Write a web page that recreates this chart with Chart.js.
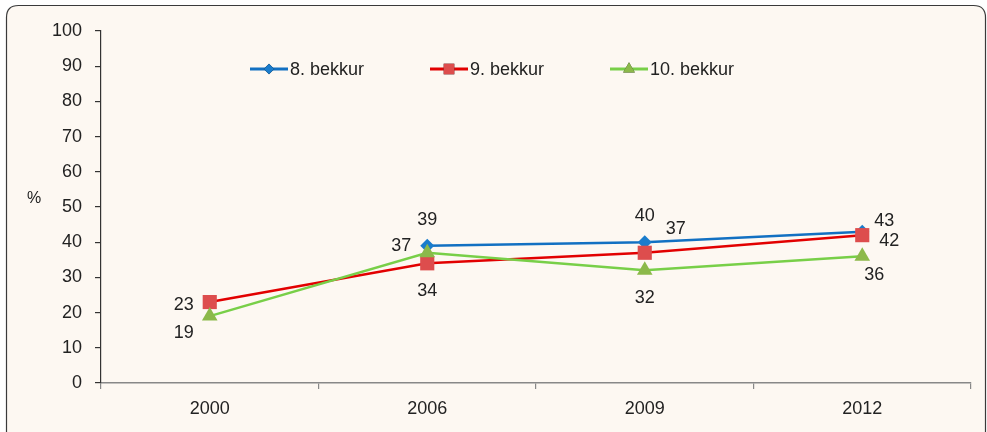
<!DOCTYPE html>
<html>
<head>
<meta charset="utf-8">
<script src="https://cdn.jsdelivr.net/npm/chart.js@4.4.0/dist/chart.umd.min.js"></script>
<style>
  html, body { margin: 0; padding: 0; background: #ffffff; }
  #wrap { width: 987px; height: 432px; position: relative; }
</style>
</head>
<body>
<div id="wrap"><canvas id="chart" width="987" height="432"></canvas></div>
<script>
// chart values
const years = ['2000', '2006', '2009', '2012'];
const grade8 = [null, 39, 40, 43];
const grade9 = [23, 34, 37, 42];
const grade10 = [19, 37, 32, 36];
const yTicks = [0, 10, 20, 30, 40, 50, 60, 70, 80, 90, 100];

// where each value label sits relative to its point
const pos8 = [null, 'above', 'above', 'upRight'];
const pos9 = ['left', 'below', 'aboveRight', 'right'];
const pos10 = ['belowLeft', 'leftUp', 'below', 'belowRight'];
const offsets = {
  above: [0, -26], below: [0, 28], left: [-26, 3], leftUp: [-26, -7],
  right: [27, 6], upRight: [22, -11], aboveRight: [31, -24],
  belowLeft: [-26, 17], belowRight: [12, 19]
};

const FONT = '"Liberation Sans", Arial, sans-serif';
const FSIZE = 18;
const textColor = '#222222';

const frame = {
  id: 'frame',
  beforeDraw(chart) {
    const c = chart.ctx;
    c.save();
    c.fillStyle = '#ffffff';
    c.fillRect(0, 0, chart.width, chart.height);
    const x = 6.5, y = 5.5, w = 979, h = 460, r = 12;
    c.beginPath();
    c.moveTo(x + r, y);
    c.lineTo(x + w - r, y);
    c.quadraticCurveTo(x + w, y, x + w, y + r);
    c.lineTo(x + w, y + h);
    c.lineTo(x, y + h);
    c.lineTo(x, y + r);
    c.quadraticCurveTo(x, y, x + r, y);
    c.closePath();
    c.fillStyle = '#fdf8f2';
    c.fill();
    c.lineWidth = 1.2;
    c.strokeStyle = '#3a3a3a';
    c.stroke();
    c.restore();
  }
};

const labels = {
  id: 'valueLabels',
  afterDatasetsDraw(chart) {
    const c = chart.ctx;
    c.save();
    c.font = FSIZE + 'px ' + FONT;
    c.fillStyle = textColor;
    c.textAlign = 'center';
    c.textBaseline = 'middle';
    chart.data.datasets.forEach((ds, i) => {
      const meta = chart.getDatasetMeta(i);
      meta.data.forEach((pt, j) => {
        const v = ds.data[j];
        if (v === null || v === undefined) return;
        const o = offsets[ds.labelPos[j]];
        c.fillText(String(v), pt.x + o[0], pt.y + o[1]);
      });
    });
    // axis unit
    c.textAlign = 'left';
    c.font = '16px ' + FONT;
    c.fillText('%', 27, 199);
    c.restore();
  }
};

const legendBox = {
  id: 'lineLegend',
  afterDraw(chart) {
    const c = chart.ctx;
    const items = [
      { x: 250, ds: chart.data.datasets[0] },
      { x: 430, ds: chart.data.datasets[1] },
      { x: 610, ds: chart.data.datasets[2] }
    ];
    const y = 69;
    c.save();
    items.forEach(it => {
      const ds = it.ds;
      c.strokeStyle = ds.borderColor;
      c.lineWidth = 3;
      c.beginPath();
      c.moveTo(it.x, y);
      c.lineTo(it.x + 38, y);
      c.stroke();
      Chart.helpers.drawPoint(c, {
        pointStyle: ds.pointStyle,
        radius: ds.pointRadius * 0.75,
        borderWidth: 0
      }, it.x + 19, y);
      c.fillStyle = ds.pointBackgroundColor;
      c.fill();
      c.font = FSIZE + 'px ' + FONT;
      c.fillStyle = textColor;
      c.textAlign = 'left';
      c.textBaseline = 'middle';
      c.fillText(ds.label, it.x + 40, y + 1);
    });
    c.restore();
  }
};

new Chart(document.getElementById('chart'), {
  type: 'line',
  data: {
    labels: years,
    datasets: [
      {
        label: '8. bekkur', data: grade8, labelPos: pos8, order: 2,
        borderColor: '#1270c2', backgroundColor: '#1a7ccc',
        pointBackgroundColor: '#1a7ccc', pointBorderColor: '#1a7ccc',
        pointStyle: 'rectRot', pointRadius: 7, pointBorderWidth: 0,
        borderWidth: 2.5, tension: 0, spanGaps: false
      },
      {
        label: '9. bekkur', data: grade9, labelPos: pos9, order: 1,
        borderColor: '#e20000', backgroundColor: '#dd4d4d',
        pointBackgroundColor: '#dd4d4d', pointBorderColor: '#dd4d4d',
        pointStyle: 'rect', pointRadius: 10, pointBorderWidth: 0,
        borderWidth: 2.5, tension: 0
      },
      {
        label: '10. bekkur', data: grade10, labelPos: pos10, order: 0,
        borderColor: '#78cf48', backgroundColor: '#8cb94a',
        pointBackgroundColor: '#8cb94a', pointBorderColor: '#8cb94a',
        pointStyle: 'triangle', pointRadius: 9, pointBorderWidth: 0,
        borderWidth: 2.5, tension: 0
      }
    ]
  },
  options: {
    responsive: false,
    animation: false,
    layout: { padding: { left: 0, top: 31, right: 16, bottom: 0 } },
    plugins: {
      legend: { display: false },
      tooltip: { enabled: false }
    },
    scales: {
      x: {
        offset: true,
        grid: { offset: true, drawOnChartArea: false, drawTicks: true, tickLength: 6, color: '#888888', lineWidth: 1.2 },
        border: { display: true, color: '#888888', width: 1.5 },
        ticks: { color: textColor, font: { family: FONT, size: FSIZE }, padding: 9 },
        afterFit(scale) { scale.height = 49; }
      },
      y: {
        min: 0, max: 100,
        afterBuildTicks(scale) { scale.ticks = yTicks.map(v => ({ value: v })); },
        grid: { drawOnChartArea: false, drawTicks: true, tickLength: 6, color: '#333333', lineWidth: 1.2 },
        border: { display: true, color: '#333333', width: 1.2 },
        ticks: { color: textColor, font: { family: FONT, size: FSIZE }, padding: 13 },
        afterFit(scale) { scale.width = 101; }
      }
    }
  },
  plugins: [frame, labels, legendBox]
});
</script>
</body>
</html>
